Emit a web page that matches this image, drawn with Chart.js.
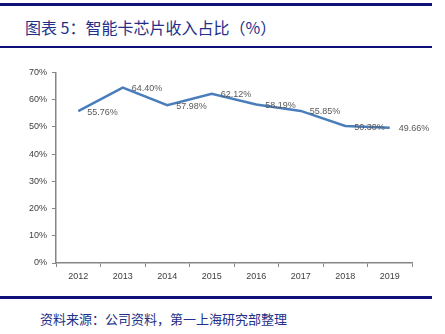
<!DOCTYPE html>
<html>
<head>
<meta charset="utf-8">
<script src="https://cdn.jsdelivr.net/npm/chart.js@4/dist/chart.umd.min.js"></script>
<style>
  body { margin: 0; width: 445px; height: 334px; background: #fff; position: relative; overflow: hidden; }
  .rule { position: absolute; left: 0; width: 432px; background: #10107a; }
  #title { position: absolute; left: 25px; top: 15px; font: 16px "Noto Sans CJK SC", sans-serif; color: #232f88; white-space: nowrap; }
  #source { position: absolute; left: 40px; top: 309px; font: 13px "Noto Sans CJK SC", sans-serif; color: #232f88; white-space: nowrap; }
  #wrap { position: absolute; left: 10px; top: 62px; width: 425px; height: 230px; }
</style>
</head>
<body>
<div class="rule" style="top:3px;height:3px"></div>
<div id="title">图表 5：智能卡芯片收入占比（%）</div>
<div class="rule" style="top:46px;height:2px"></div>
<div id="wrap"><canvas id="shareChart"></canvas></div>
<div class="rule" style="top:296px;height:3px"></div>
<div id="source">资料来源：公司资料，第一上海研究部整理</div>

<script>
    const years = ['2012', '2013', '2014', '2015', '2016', '2017', '2018', '2019'];
    const shareValues = [55.76, 64.40, 57.98, 62.12, 58.19, 55.85, 50.30, 49.66];
    const yTicks = [0, 10, 20, 30, 40, 50, 60, 70];

    // draw value labels to the right of each point
    const valueLabels = {
        id: 'valueLabels',
        afterDatasetsDraw(chart) {
            const ctx = chart.ctx;
            const meta = chart.getDatasetMeta(0);
            ctx.save();
            ctx.font = '9px "Liberation Sans", Arial, sans-serif';
            ctx.fillStyle = '#595959';
            ctx.textAlign = 'left';
            ctx.textBaseline = 'middle';
            meta.data.forEach(function(pt, i) {
                ctx.fillText(shareValues[i].toFixed(2) + '%', pt.x + 9, pt.y + 1);
            });
            ctx.restore();
        }
    };

    const data = {
        labels: years,
        datasets: [{
            label: '智能卡芯片收入占比',
            data: shareValues,
            borderColor: '#4a7ebb',
            borderWidth: 2.5,
            pointRadius: 0,
            tension: 0,
            fill: false
        }]
    };

    const config = {
        type: 'line',
        data: data,
        options: {
            responsive: true,
            maintainAspectRatio: false,
            animation: false,
            layout: { padding: { top: 6, right: 23 } },
            plugins: {
                legend: { display: false },
                tooltip: { enabled: false }
            },
            scales: {
                x: {
                    offset: true,
                    grid: { display: true, drawOnChartArea: false, offset: true, tickLength: 4, color: '#868686' },
                    border: { color: '#868686', width: 1.5 },
                    ticks: { color: '#404040', font: { size: 9, family: '"Liberation Sans", Arial, sans-serif' }, padding: 4 },
                    afterFit: function(scale) { scale.height = 29; }
                },
                y: {
                    min: 0,
                    max: 70,
                    afterBuildTicks: function(scale) { scale.ticks = yTicks.map(function(v) { return { value: v }; }); },
                    grid: { display: true, drawOnChartArea: false, tickLength: 4, color: '#868686' },
                    border: { color: '#868686', width: 1.5 },
                    ticks: {
                        color: '#404040',
                        font: { size: 9, family: '"Liberation Sans", Arial, sans-serif' },
                        padding: 5,
                        callback: function(v) { return v + '%'; }
                    },
                    afterFit: function(scale) { scale.width = 46; }
                }
            }
        },
        plugins: [valueLabels]
    };

    new Chart(document.getElementById('shareChart').getContext('2d'), config);
</script>
</body>
</html>
